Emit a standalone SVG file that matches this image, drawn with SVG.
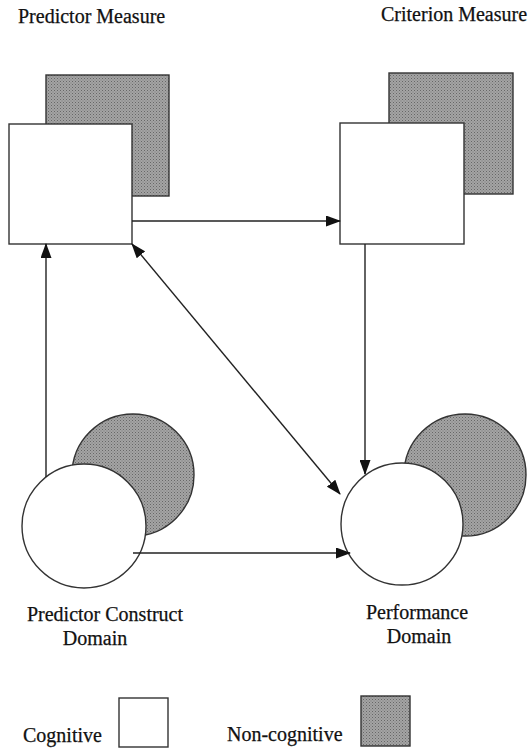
<svg xmlns="http://www.w3.org/2000/svg" width="530" height="749" viewBox="0 0 530 749">
<style>
text{font-family:"Liberation Serif","Times New Roman",serif;font-size:20px;fill:#111;stroke:#111;stroke-width:0.25}
.cog{fill:#fff;stroke:#333;stroke-width:1.4}
.non{fill:url(#dots);stroke:#333;stroke-width:1.4}
.conn{stroke:#222;stroke-width:1.4;fill:none}
</style>
<defs>
<pattern id="dots" width="3" height="3" patternUnits="userSpaceOnUse">
<rect width="3" height="3" fill="#a4a4a4"/>
<rect width="1" height="1" fill="#676767"/>
<rect x="1.5" y="1.5" width="1" height="1" fill="#7a7a7a"/>
</pattern>
<marker id="ah" markerWidth="15" markerHeight="11" refX="14" refY="5.5" orient="auto-start-reverse" markerUnits="userSpaceOnUse">
<path d="M0,0 L15,5.5 L0,11 Z" fill="#111"/>
</marker>
</defs>
<text x="18" y="23">Predictor Measure</text>
<text x="381" y="21">Criterion Measure</text>
<g id="predictor-measure">
<rect class="non" x="46" y="75" width="123" height="121"/>
<rect class="cog" x="9" y="124" width="123" height="120"/>
</g>
<g id="criterion-measure">
<rect class="non" x="389" y="73" width="124" height="121"/>
<rect class="cog" x="340" y="123" width="124" height="121"/>
</g>
<g id="predictor-construct-domain">
<circle class="non" cx="133" cy="475" r="61"/>
<circle class="cog" cx="84" cy="526" r="62"/>
<text x="105" y="621" text-anchor="middle">Predictor Construct</text>
<text x="95" y="645" text-anchor="middle">Domain</text>
</g>
<g id="performance-domain">
<circle class="non" cx="465" cy="475" r="61"/>
<circle class="cog" cx="402" cy="524" r="61"/>
<text x="417" y="619" text-anchor="middle">Performance</text>
<text x="419" y="643" text-anchor="middle">Domain</text>
</g>
<g id="connectors">
<line class="conn" x1="132" y1="221" x2="340" y2="221" marker-end="url(#ah)"/>
<line class="conn" x1="46" y1="477" x2="46" y2="244" marker-end="url(#ah)"/>
<line class="conn" x1="365" y1="244" x2="365" y2="474" marker-end="url(#ah)"/>
<line class="conn" x1="133" y1="553" x2="350" y2="553" marker-end="url(#ah)"/>
<line class="conn" x1="132" y1="244" x2="340" y2="494" marker-start="url(#ah)" marker-end="url(#ah)"/>
</g>
<g id="legend">
<text x="23" y="742">Cognitive</text>
<rect class="cog" x="119" y="698" width="49" height="49"/>
<text x="227" y="741">Non-cognitive</text>
<rect class="non" x="361" y="696" width="49" height="50"/>
</g>
</svg>
